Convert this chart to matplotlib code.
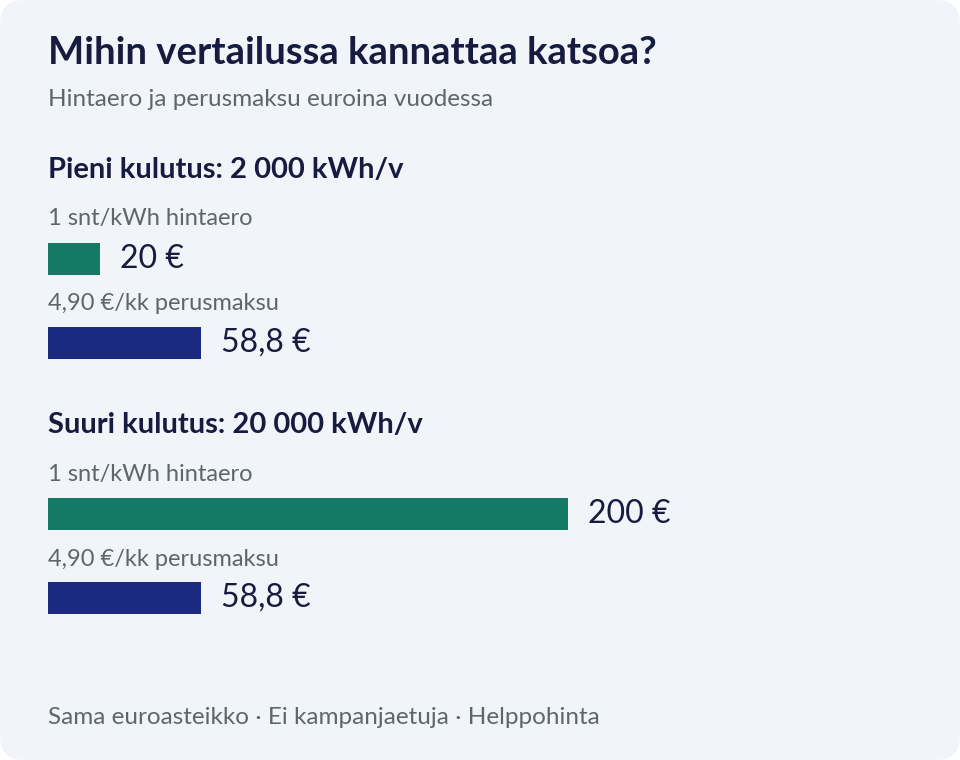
import matplotlib.pyplot as plt
from matplotlib.patches import FancyBboxPatch

plt.rcParams['font.family'] = ['Lato', 'DejaVu Sans']

title = "Mihin vertailussa kannattaa katsoa?"
subtitle = "Hintaero ja perusmaksu euroina vuodessa"
footer = "Sama euroasteikko · Ei kampanjaetuja · Helppohinta"

groups = ["Pieni kulutus: 2 000 kWh/v", "Suuri kulutus: 20 000 kWh/v"]
bar_labels = ["1 snt/kWh hintaero", "4,90 €/kk perusmaksu"]
price_diff = [20, 200]        # euroa / vuosi
base_fee = [58.8, 58.8]       # euroa / vuosi
value_text = [["20 €", "58,8 €"], ["200 €", "58,8 €"]]

green = "#157A65"
navy = "#1B2A80"
dark = "#171B40"
grey = "#5E6768"
bg_col = "#F1F5F9"

W, H = 960, 760
fig = plt.figure(figsize=(9.6, 7.6), dpi=100)
fig.patch.set_facecolor("white")

# background / text layer in pixel coords
bg = fig.add_axes([0, 0, 1, 1])
bg.set_xlim(0, W)
bg.set_ylim(H, 0)
bg.axis("off")
bg.add_patch(FancyBboxPatch((0, 0), W, H, boxstyle="round,pad=0,rounding_size=24",
                            fc=bg_col, ec="none"))

left = 48
px_per_eur = 2.6

bg.text(left, 53, title, fontsize=27.5, fontweight="bold", color=dark, va="center")
bg.text(left, 100, subtitle, fontsize=17.5, color=grey, va="center")

# bar layer: x in euros, y in pixels
ax = fig.add_axes([0, 0, 1, 1], facecolor="none")
ax.set_xlim(-left / px_per_eur, (W - left) / px_per_eur)
ax.set_ylim(H, 0)
ax.axis("off")

head_y = [170, 425]
bar_h = 32
for i, g in enumerate(groups):
    y0 = head_y[i]
    bg.text(left, y0, g, fontsize=21, fontweight="bold", color=dark, va="center")
    bg.text(left, y0 + 49, bar_labels[0], fontsize=17, color=grey, va="center")
    bg.text(left, y0 + 134, bar_labels[1], fontsize=17, color=grey, va="center")
    ys = [y0 + 89, y0 + 173]
    vals = [price_diff[i], base_fee[i]]
    ax.barh(ys, vals, height=bar_h, color=[green, navy], left=0)
    for y, v, t in zip(ys, vals, value_text[i]):
        ax.annotate(t, (v, y), xytext=(14.5, 0), textcoords="offset points",
                    fontsize=23, color=dark, va="center", ha="left")

bg.text(left, 717, footer, fontsize=17.5, color=grey, va="center")

fig.savefig("out.png", dpi=100, facecolor="white")
